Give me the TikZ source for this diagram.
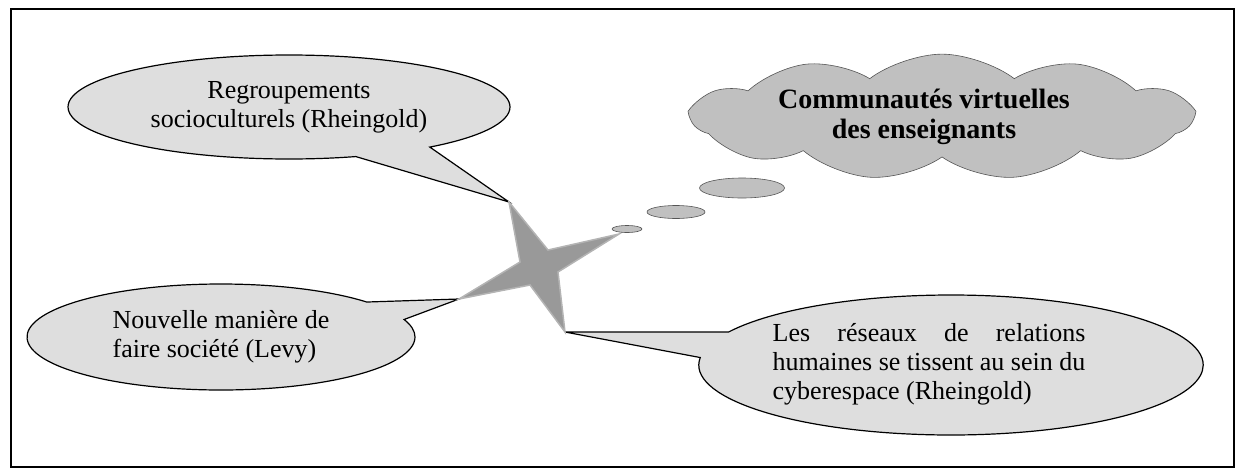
\documentclass[tikz,border=0pt]{standalone}
\usepackage{fontspec}
\setmainfont{Liberation Serif}
\usepackage{xcolor}
\usetikzlibrary{shapes.callouts, shapes.symbols, shapes.geometric}
\definecolor{bubblegray}{HTML}{DEDEDE}
\definecolor{cloudgray}{HTML}{C0C0C0}
\definecolor{puffline}{HTML}{555555}
\definecolor{stargray}{HTML}{999999}
\definecolor{staredge}{HTML}{B4B4B4}
\newlength\reswidth

\begin{document}
\begin{tikzpicture}[x=1pt, y=-1pt]
    \tikzstyle{bubble}=[ellipse callout, draw, fill=bubblegray, line width=1.2pt, inner sep=0pt, callout pointer arc=22, font=\fontsize{26}{29}\selectfont]
    \tikzstyle{puff}=[ellipse, draw=puffline, fill=cloudgray, line width=0.6pt, inner sep=0pt]
    \useasboundingbox (0,0) rectangle (1239,472);
    \draw[line width=2pt] (11,9) rectangle (1234,467);
    % star tips
    \coordinate (startop) at (509,202);
    \coordinate (starright) at (619,234);
    \coordinate (starbottom) at (565,332);
    \coordinate (starleft) at (459,299);
    \node[bubble, minimum width=442, minimum height=104, callout absolute pointer={(startop)}] (socio) at (289,107) {\raisebox{-6pt}{\begin{tabular}{@{}c@{}}Regroupements\\socioculturels (Rheingold)\end{tabular}}};
    \node[bubble, align=left, minimum width=388, minimum height=106, callout absolute pointer={(starleft)}] (levy) at (221,337) {Nouvelle manière de\\faire société (Levy)};
    \node[bubble, minimum width=502, minimum height=140, callout absolute pointer={(starbottom)}] (reseaux) at (951,365) {\raisebox{-5pt}{\settowidth{\reswidth}{humaines se tissent au sein du}\begin{tabular}{@{}l@{}}\makebox[\reswidth][s]{Les réseaux de relations}\\humaines se tissent au sein du\\cyberespace (Rheingold)\end{tabular}}\hspace*{44pt}};
    \filldraw[fill=stargray, draw=staredge, line width=1.5pt, line join=miter] (startop) -- (548,250) -- (starright) -- (558,272) -- (starbottom) -- (530,285) -- (starleft) -- (520,262) -- cycle;
    % thought bubbles
    \node[puff, minimum width=30, minimum height=7] (puffa) at (627,229) {};
    \node[puff, minimum width=58, minimum height=13] (puffb) at (676,212) {};
    \node[puff, minimum width=85, minimum height=20] (puffc) at (742,188) {};
    \node[cloud, cloud ignores aspect, draw=puffline, fill=cloudgray, line width=0.6pt, cloud puffs=11, cloud puff arc=75, minimum width=500, minimum height=120, inner sep=0pt, font=\fontsize{28}{30}\selectfont\bfseries] (commu) at (942,117) {\raisebox{-6pt}{\begin{tabular}{@{}c@{}}Communautés virtuelles\\des enseignants\end{tabular}}\hspace*{36pt}};
\end{tikzpicture}
\end{document}
